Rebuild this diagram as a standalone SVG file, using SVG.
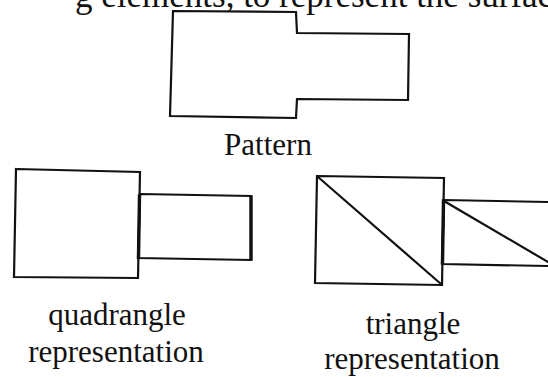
<svg xmlns="http://www.w3.org/2000/svg" width="548" height="377" viewBox="0 0 548 377">
  <style>
    .edge { fill: none; stroke: #111; stroke-width: 2.2; stroke-linejoin: miter; stroke-linecap: square; }
    .heavy { fill: none; stroke: #111; stroke-width: 3.4; stroke-linecap: square; }
    .label { font-family: "Liberation Serif", "Times New Roman", serif; font-size: 31px; fill: #111; text-anchor: middle; }
    .caption { font-family: "Liberation Serif", "Times New Roman", serif; font-size: 35px; fill: #111; }
  </style>
  <rect width="548" height="377" fill="#fff"/>

  <!-- running text line at the top of the page -->
  <text class="caption" x="75" y="7">g elements, to represent the surface</text>

  <!-- stepped pattern outline -->
  <g id="pattern">
    <polygon class="edge" stroke-width="2.6" points="173,11 296,12 297,33 409,34 408,100 297,99 296,118 170,116"/>
    <text class="label" x="268" y="155">Pattern</text>
  </g>

  <!-- quadrangle mesh: two quadrilaterals -->
  <g id="quadrangle">
    <polygon class="edge" points="16,169 140,172 138,278 14,277"/>
    <polygon class="edge" points="140,194 251,196 251,260 138,258"/>
    <line class="heavy" x1="139.5" y1="196" x2="138.5" y2="257"/>
    <line class="heavy" x1="251" y1="197" x2="251" y2="259"/>
    <text class="label" x="117" y="325">quadrangle</text>
    <text class="label" x="116" y="362">representation</text>
  </g>

  <!-- triangle mesh: each quadrilateral split by a diagonal -->
  <g id="triangle">
    <polygon class="edge" points="317,176 444,178 442,285 315,283"/>
    <line class="edge" stroke-width="2.6" x1="318" y1="177" x2="441" y2="284"/>
    <polyline class="edge" points="548,202 444,200 442,264 548,266"/>
    <line class="heavy" x1="443.5" y1="201" x2="442.5" y2="262"/>
    <line class="edge" stroke-width="2.6" x1="444" y1="201" x2="548" y2="262"/>
    <text class="label" x="413" y="334">triangle</text>
    <text class="label" x="412" y="369">representation</text>
  </g>
</svg>
